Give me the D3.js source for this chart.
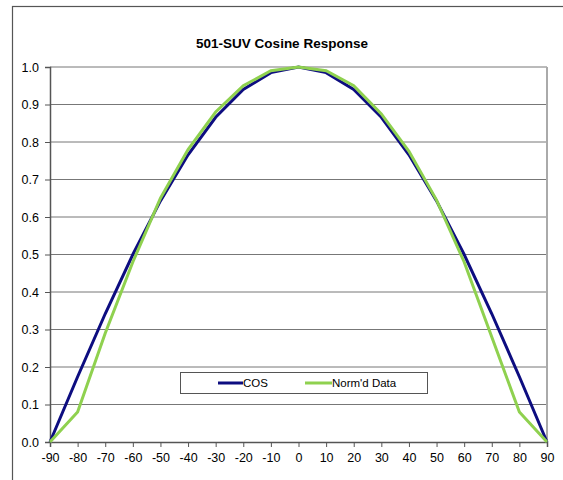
<!DOCTYPE html>
<html>
<head>
<meta charset="utf-8">
<script src="https://cdn.jsdelivr.net/npm/d3@7"></script>
<style>
  body { margin: 0; background: #fff; }
  text { font-family: "Liberation Sans", Arial, sans-serif; fill: #000; }
</style>
</head>
<body>
<div class="chart"></div>
<script>
// angles in degrees
const angles = [-90, -80, -70, -60, -50, -40, -30, -20, -10, 0, 10, 20, 30, 40, 50, 60, 70, 80, 90];
const cosValues = [0, 0.174, 0.342, 0.5, 0.643, 0.766, 0.866, 0.94, 0.985, 1, 0.985, 0.94, 0.866, 0.766, 0.643, 0.5, 0.342, 0.174, 0];
const normdValues = [0, 0.08, 0.29, 0.48, 0.65, 0.78, 0.88, 0.95, 0.99, 1, 0.99, 0.95, 0.875, 0.775, 0.645, 0.48, 0.28, 0.08, 0];
const yTicks = [0, 0.1, 0.2, 0.3, 0.4, 0.5, 0.6, 0.7, 0.8, 0.9, 1.0];
const seriesNames = ['COS', "Norm'd Data"];

const width = 563;
const height = 480;
const plotLeft = 50, plotRight = 547, plotTop = 67, plotBottom = 442;

const svg = d3.select('.chart')
  .append('svg')
    .attr('width', width)
    .attr('height', height);

// outer chart border
svg.append('rect')
  .attr('x', 12.5)
  .attr('y', 6.5)
  .attr('width', 600)
  .attr('height', 500)
  .attr('fill', 'none')
  .attr('stroke', '#555')
  .attr('stroke-width', 1.2);

const x = d3.scaleLinear().domain([-90, 90]).range([plotLeft, plotRight]);
const y = d3.scaleLinear().domain([0, 1]).range([plotBottom, plotTop]);

// gridlines
svg.append('g')
  .selectAll('line')
  .data(yTicks.slice(1))
  .enter()
  .append('line')
    .attr('x1', plotLeft)
    .attr('x2', plotRight)
    .attr('y1', (d) => y(d))
    .attr('y2', (d) => y(d))
    .attr('stroke', '#777')
    .attr('stroke-width', 1);

// right edge of plot
svg.append('line')
  .attr('x1', plotRight).attr('x2', plotRight)
  .attr('y1', plotTop).attr('y2', plotBottom)
  .attr('stroke', '#aaa')
  .attr('stroke-width', 2);

// axes
const yAxis = svg.append('g')
  .attr('transform', `translate(${plotLeft},0)`)
  .call(d3.axisLeft(y).tickValues(yTicks).tickFormat((d) => d.toFixed(1)).tickSize(5).tickPadding(6));
const xAxis = svg.append('g')
  .attr('transform', `translate(0,${plotBottom})`)
  .call(d3.axisBottom(x).tickValues(angles).tickFormat((d) => String(d)).tickSize(5).tickPadding(6));

[yAxis, xAxis].forEach((ax) => {
  ax.select('.domain').attr('stroke', '#555').attr('stroke-width', 1.5);
  ax.selectAll('.tick line').attr('stroke', '#555');
  ax.selectAll('.tick text')
    .style('font-size', '12.5px')
    .style('font-family', '"Liberation Sans", Arial, sans-serif')
    .attr('fill', '#000');
});

// series lines
const line = d3.line()
  .x((d) => x(d[0]))
  .y((d) => y(d[1]));

svg.append('path')
  .datum(angles.map((a, i) => [a, cosValues[i]]))
  .attr('d', line)
  .attr('fill', 'none')
  .attr('stroke', '#0d0d80')
  .attr('stroke-width', 3);

svg.append('path')
  .datum(angles.map((a, i) => [a, normdValues[i]]))
  .attr('d', line)
  .attr('fill', 'none')
  .attr('stroke', '#8fd14f')
  .attr('stroke-width', 3);

// title
svg.append('text')
  .attr('x', 282)
  .attr('y', 48)
  .style('text-anchor', 'middle')
  .style('font-size', '13.5px')
  .style('font-weight', 'bold')
  .text('501-SUV Cosine Response');

// legend
const legend = svg.append('g');
legend.append('rect')
  .attr('x', 180.5)
  .attr('y', 372.5)
  .attr('width', 247)
  .attr('height', 21)
  .attr('fill', '#fff')
  .attr('stroke', '#555')
  .attr('stroke-width', 1);

const legendItems = legend.selectAll('.legend-item')
  .data(seriesNames)
  .enter()
  .append('g')
    .attr('transform', (d, i) => `translate(${i === 0 ? 218 : 305},383)`);
legendItems.append('line')
  .attr('x1', 0)
  .attr('x2', (d, i) => i === 0 ? 25 : 27)
  .attr('stroke', (d, i) => i === 0 ? '#0d0d80' : '#8fd14f')
  .attr('stroke-width', 3);
legendItems.append('text')
  .attr('x', (d, i) => i === 0 ? 25 : 27)
  .attr('y', 4)
  .style('font-size', '11.5px')
  .text((d) => d);
</script>
</body>
</html>
